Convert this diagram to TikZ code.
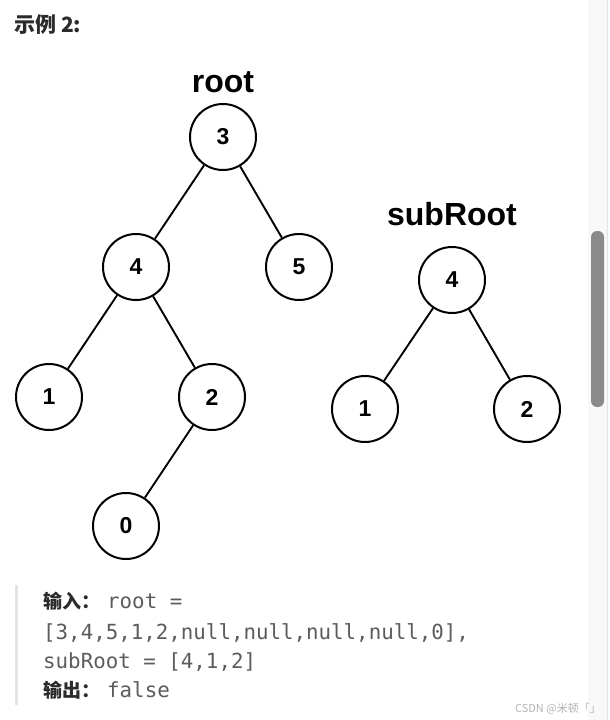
\documentclass[tikz,border=0pt]{standalone}
\usepackage{fontspec}
\usepackage{tikz}
\usetikzlibrary{positioning}
\newfontfamily\treefont{Liberation Sans}
\newfontfamily\cjk{Noto Sans CJK SC}
\newfontfamily\codefont{DejaVu Sans Mono}

\definecolor{codegray}{HTML}{5C5C5C}
\definecolor{labelgray}{HTML}{2B2B2B}
\definecolor{quotebar}{HTML}{E3E3E3}
\definecolor{thumbgray}{HTML}{8A8A8A}
\definecolor{trackgray}{HTML}{F8F8F8}
\definecolor{markgray}{HTML}{B4B4B4}

\tikzset{
  treenode/.style={circle, draw, line width=2pt, minimum size=66pt, inner sep=0pt,
    font=\treefont\bfseries\fontsize{23}{23}\selectfont},
  treetitle/.style={font=\treefont\bfseries\fontsize{32}{32}\selectfont},
  treeedge/.style={line width=1.9pt},
  cjklabel/.style={anchor=west, inner sep=0pt, text=labelgray, font=\cjk\bfseries\fontsize{19}{19}\selectfont},
  codetext/.style={anchor=west, inner sep=0pt, text=codegray, font=\codefont\fontsize{20.8}{20.8}\selectfont}
}

\begin{document}
\begin{tikzpicture}[x=1pt, y=-1pt]
\useasboundingbox (0,0) rectangle (610,720);
\fill[white] (0,0) rectangle (610,720);

% heading
\node[cjklabel, font=\cjk\bfseries\fontsize{21}{21}\selectfont] (head) at (14,25) {示例 2:};

% tree root
\node[treetitle] (roottitle) at (223,82) {root};
\node[treenode] (r3) at (223,137) {3};
\node[treenode] (r4) at (136,267) {4};
\node[treenode] (r5) at (299,267) {5};
\node[treenode] (r1) at (49,397) {1};
\node[treenode] (r2) at (212,397) {2};
\node[treenode] (r0) at (126,526) {0};
\draw[treeedge] (r3) -- (r4);
\draw[treeedge] (r3) -- (r5);
\draw[treeedge] (r4) -- (r1);
\draw[treeedge] (r4) -- (r2);
\draw[treeedge] (r2) -- (r0);

% tree subRoot
\node[treetitle] (subtitle) at (452,214) {subRoot};
\node[treenode] (s4) at (452,280) {4};
\node[treenode] (s1) at (365,409) {1};
\node[treenode] (s2) at (527,409) {2};
\draw[treeedge] (s4) -- (s1);
\draw[treeedge] (s4) -- (s2);

% example text
\fill[quotebar] (15,585) rectangle (18,705);
\node[cjklabel] (inlabel) at (43,601) {输入：};
\node[codetext] (inline) at (107,601) {root =};
\node[codetext] (arrline) at (43,633) {[3,4,5,1,2,null,null,null,null,0],};
\node[codetext] (subline) at (43,662) {subRoot = [4,1,2]};
\node[cjklabel] (outlabel) at (43,690) {输出：};
\node[codetext] (outline) at (107,690) {false};

% scrollbar
\fill[trackgray] (588,0) rectangle (607,720);
\draw[quotebar] (607.5,0) -- (607.5,720);
\fill[thumbgray, rounded corners=6pt] (591,231) rectangle (604,407);

% watermark
\node[anchor=east, inner sep=0pt, text=markgray, font=\cjk\fontsize{11}{11}\selectfont] (mark) at (601,709) {CSDN @米顿「」};
\end{tikzpicture}
\end{document}
